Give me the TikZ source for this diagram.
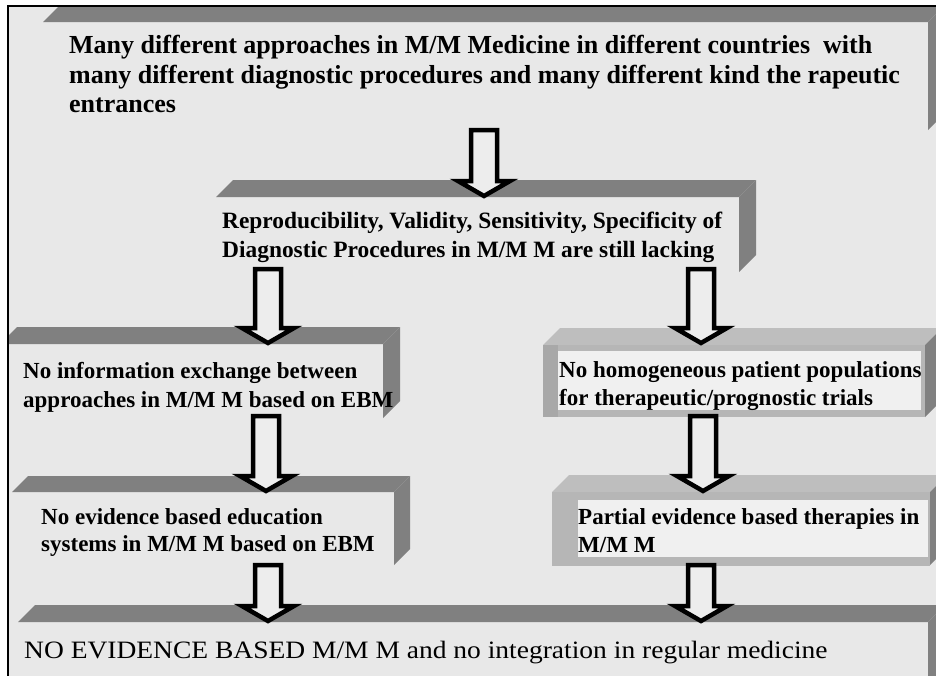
\documentclass[tikz,border=0pt]{standalone}
\usepackage{fontspec}
\setmainfont{Liberation Serif}
\newfontfamily\botfont[FakeStretch=1.1]{Liberation Serif}
\definecolor{bg}{HTML}{E8E8E8}
\definecolor{band}{HTML}{808080}
\definecolor{lband}{HTML}{BEBEBE}
\definecolor{lstrip}{HTML}{A8A8A8}
\definecolor{rframe}{HTML}{B6B6B6}
\definecolor{innerw}{HTML}{F0F0F0}
\definecolor{afill}{HTML}{EDEDED}
\tikzset{
  boxtext/.style={anchor=north west, inner sep=0pt, align=left, text=black},
  blockarrow/.style={draw=black, fill=afill, line width=4.5pt, line join=miter},
}
% 3D box: x1, ytop(front), x2, ybottom(front), depth, colour
\newcommand\slabbox[6]{%
  \fill[#6] (#1,#2) -- (#3,#2) -- ++(#5,-#5) -- ++({#1-#3},0) -- cycle;
  \fill[#6] (#3,#2) -- ++(#5,-#5) -- ++(0,{#4-#2}) -- ++(-#5,#5) -- cycle;
}
% block arrow: x centre, y top, y tip
\newcommand\blockdown[3]{%
  \draw[blockarrow] ({#1-13},{#2+2}) -- ({#1+13},{#2+2}) -- ({#1+13},{#3-19})
    -- ({#1+26},{#3-19}) -- (#1,{#3-4}) -- ({#1-26},{#3-19}) -- ({#1-13},{#3-19}) -- cycle;
}
\begin{document}
\begin{tikzpicture}[x=1pt,y=-1pt]
\useasboundingbox (0,0) rectangle (936,675);
\fill[white] (0,0) rectangle (936,675);
\fill[bg] (8,6) rectangle (940,680);
\begin{scope}
\clip (9,7) rectangle (936,675);
% top box
\slabbox{43}{22}{928}{130}{15}{band}
% second box
\slabbox{216}{197}{739}{272}{17}{band}
% left column
\slabbox{0}{344}{383}{418}{17}{band}
\slabbox{12}{492}{394}{565}{16}{band}
% right column box 3
\fill[lband] (543,345) -- (925,345) -- ++(17,-17) -- (560,328) -- cycle;
\fill[band] (925,345) -- ++(17,-17) -- ++(0,72) -- (925,417) -- cycle;
\fill[rframe] (543,345) rectangle (925,417);
\fill[lstrip] (543,345) rectangle (558,417);
\fill[innerw] (558,351) rectangle (921,410);
% right column box 4
\fill[lband] (552,492) -- (930,492) -- ++(17,-17) -- (569,475) -- cycle;
\fill[band] (930,492) -- ++(17,-17) -- ++(0,73) -- (930,565) -- cycle;
\fill[rframe] (552,492) rectangle (930,566);
\fill[rframe] (552,492) rectangle (577,566);
\fill[innerw] (578,500) rectangle (928,557);
% bottom slab
\slabbox{18}{622}{928}{700}{17}{band}
\end{scope}
\draw[line width=1.5pt] (8,680) -- (8,6) -- (940,6);
% texts
\node[boxtext, font=\bfseries\fontsize{26}{29.5}\selectfont] (t1) at (69,35)
  {Many different approaches in M/M Medicine in different countries\ \ with\\
   many different diagnostic procedures and many different kind the rapeutic\\
   entrances};
\node[boxtext, font=\bfseries\fontsize{23.4}{29}\selectfont] (t2) at (222,212)
  {Reproducibility, Validity, Sensitivity, Specificity of\\
   Diagnostic Procedures in M/M M are still lacking};
\node[boxtext, font=\bfseries\fontsize{23}{29}\selectfont] (t3l) at (23,362)
  {No information exchange between\\
   approaches in M/M M based on EBM};
\node[boxtext, font=\bfseries\fontsize{23}{28}\selectfont] (t3r) at (559,361)
  {No homogeneous patient populations\\
   for therapeutic/prognostic trials};
\node[boxtext, font=\bfseries\fontsize{23}{27}\selectfont] (t4l) at (41,508)
  {No evidence based education\\
   systems in M/M M based on EBM};
\node[boxtext, font=\bfseries\fontsize{23}{28}\selectfont] (t4r) at (578,508)
  {Partial evidence based therapies in\\
   M/M M};
\node[anchor=base west, inner sep=0pt, font=\botfont\fontsize{25}{28}\selectfont] (t5) at (24,658)
  {NO EVIDENCE BASED M/M M and no integration in regular medicine};
% arrows
\blockdown{484}{128}{200}
\blockdown{268}{267}{347}
\blockdown{701}{267}{347}
\blockdown{266}{414}{495}
\blockdown{703}{414}{495}
\blockdown{268}{563}{625}
\blockdown{701}{563}{625}
\end{tikzpicture}
\end{document}
